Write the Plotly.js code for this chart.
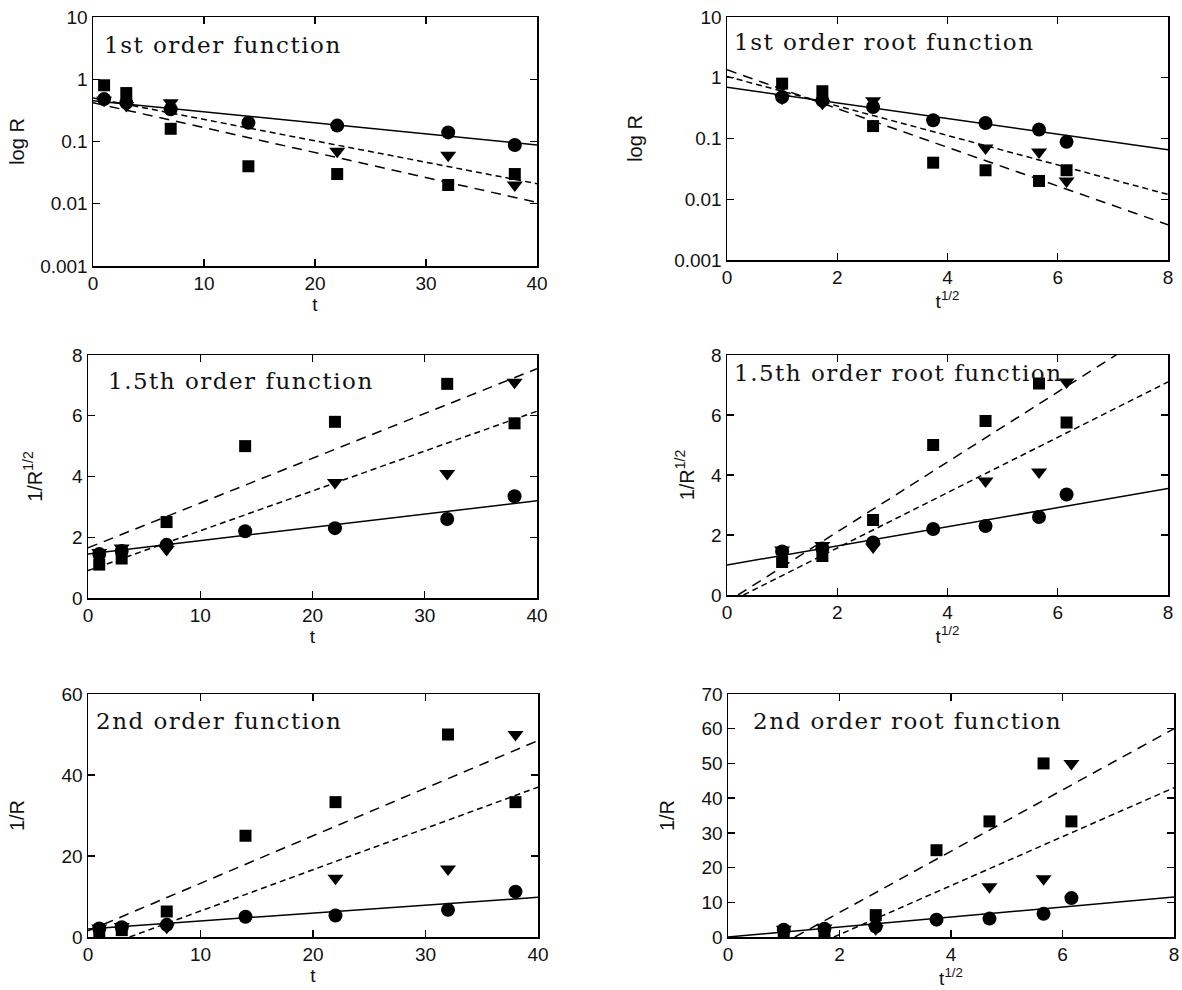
<!DOCTYPE html>
<html><head><meta charset="utf-8">
<script src="https://cdn.plot.ly/plotly-3.0.1.min.js"></script>
<style>
html,body{margin:0;padding:0;background:#fff;}
#chart{width:1182px;height:990px;}
.annotation-text{letter-spacing:1.5px;}
</style></head><body><div id="chart"></div>
<script>
// time points and their square roots
const tValues = [1, 3, 7, 14, 22, 32, 38];
const rootT = [1, 1.73, 2.65, 3.74, 4.69, 5.66, 6.16];

// R (log R panels)
const rCircle   = [0.48, 0.42, 0.33, 0.20, 0.18, 0.14, 0.088];
const rTriangle = [0.46, 0.38, 0.42, null, 0.07, 0.06, 0.02];
const rSquare   = [0.80, 0.60, 0.16, 0.04, 0.03, 0.02, 0.03];

// 1/R^1/2 panels
const hCircle   = [1.45, 1.55, 1.75, 2.2, 2.3, 2.6, 3.35];
const hTriangle = [1.5, 1.65, 1.6, null, 3.8, 4.1, 7.1];
const hSquare   = [1.1, 1.3, 2.5, 5.0, 5.8, 7.05, 5.75];

// 1/R panels
const iCircle   = [2.1, 2.4, 3.0, 5.0, 5.3, 6.7, 11.2];
const iTriangle = [2.2, 2.6, 2.4, null, 14.5, 16.8, 50];
const iSquare   = [1.25, 1.7, 6.3, 25, 33.3, 50, 33.3];

// fitted lines: [x0, x1], [y0, y1]
const fit1 = {solid: [[0, 40], [0.45, 0.088]], shortd: [[0, 40], [0.50, 0.021]], longd: [[0, 40], [0.42, 0.0105]]};
const fit2 = {solid: [[0, 8], [0.70, 0.065]], shortd: [[0, 8], [1.05, 0.012]], longd: [[0, 8], [1.35, 0.0038]]};
const fit3 = {solid: [[0, 40], [1.45, 3.2]], shortd: [[0, 40], [0.9, 6.15]], longd: [[0, 40], [1.65, 7.55]]};
const fit4 = {solid: [[0, 8], [1.0, 3.55]], shortd: [[0.3, 8], [0, 7.1]], longd: [[0.2, 8], [0, 9.1]]};
const fit5 = {solid: [[0, 40], [2.0, 9.8]], shortd: [[3.7, 40], [0, 37]], longd: [[0, 40], [1.5, 48.5]]};
const fit6 = {solid: [[0, 8], [0, 11.5]], shortd: [[1.9, 8], [0, 43]], longd: [[1.2, 8], [0, 60]]};

const panelTitles = ['1st order function', '1st order root function', '1.5th order function',
  '1.5th order root function', '2nd order function', '2nd order root function'];
const xTitles = ['t', 't<sup>1/2</sup>'];
const yTitles = ['log R', '1/R<sup>1/2</sup>', '1/R'];

const W = 1182, H = 990;
// pixel boxes [left, right, top, bottom]
const boxes = [
  [93, 537, 17, 266], [727, 1168, 17, 260],
  [88, 537, 355, 598], [727, 1168, 355, 595],
  [88, 538, 694, 937], [728, 1174, 694, 937]
];
const yStandoff = [10, 26, 24, 11, 31, 21];
const titlePos = [[102, 45], [732, 42], [106, 381], [732, 373], [94, 721], [751, 721]];

const panels = [
  {x: tValues, c: rCircle, tr: rTriangle, s: rSquare, fit: fit1, xr: [0, 40], yr: [-3, 1], log: true},
  {x: rootT, c: rCircle, tr: rTriangle, s: rSquare, fit: fit2, xr: [0, 8], yr: [-3, 1], log: true},
  {x: tValues, c: hCircle, tr: hTriangle, s: hSquare, fit: fit3, xr: [0, 40], yr: [0, 8]},
  {x: rootT, c: hCircle, tr: hTriangle, s: hSquare, fit: fit4, xr: [0, 8], yr: [0, 8]},
  {x: tValues, c: iCircle, tr: iTriangle, s: iSquare, fit: fit5, xr: [0, 40], yr: [0, 60]},
  {x: rootT, c: iCircle, tr: iTriangle, s: iSquare, fit: fit6, xr: [0, 8], yr: [0, 70]}
];

const data = [];
const layout = {
  width: W, height: H, margin: {l: 0, r: 0, t: 0, b: 0},
  paper_bgcolor: '#fff', plot_bgcolor: '#fff', showlegend: false,
  font: {family: 'Liberation Sans, Arial, sans-serif', color: '#111'},
  annotations: []
};

const axisBase = {
  showline: true, mirror: 'ticks', linecolor: '#000', linewidth: 1.5,
  ticks: 'inside', ticklen: 7, tickwidth: 1.3, tickcolor: '#000',
  showgrid: false, zeroline: false,
  tickfont: {family: 'Liberation Sans, Arial, sans-serif', size: 19, color: '#111'}
};

panels.forEach((p, i) => {
  const n = i + 1;
  const xa = 'x' + (n === 1 ? '' : n), ya = 'y' + (n === 1 ? '' : n);
  const b = boxes[i];
  const lineSpec = [
    ['solid', 'solid'], ['shortd', '6px,4px'], ['longd', '10px,7px']
  ];
  lineSpec.forEach(([k, dash]) => {
    data.push({x: p.fit[k][0], y: p.fit[k][1], xaxis: xa, yaxis: ya, mode: 'lines',
      line: {color: '#000', width: 1.5, dash: dash}, hoverinfo: 'skip'});
  });
  data.push({x: p.x, y: p.s, xaxis: xa, yaxis: ya, mode: 'markers', cliponaxis: false,
    marker: {symbol: 'square', size: 12, color: '#000'}});
  data.push({x: p.x, y: p.tr, xaxis: xa, yaxis: ya, mode: 'markers', cliponaxis: false,
    marker: {symbol: 'triangle-down', size: 14, color: '#000'}});
  data.push({x: p.x, y: p.c, xaxis: xa, yaxis: ya, mode: 'markers', cliponaxis: false,
    marker: {symbol: 'circle', size: 14, color: '#000'}});

  const xkey = 'xaxis' + (n === 1 ? '' : n), ykey = 'yaxis' + (n === 1 ? '' : n);
  const xticks = p.xr[1] === 40 ? [0, 10, 20, 30, 40] : [0, 2, 4, 6, 8];
  layout[xkey] = Object.assign({}, axisBase, {
    domain: [b[0] / W, b[1] / W], anchor: ya, range: p.xr,
    tickmode: 'array', tickvals: xticks,
    title: {text: xTitles[i % 2], font: {size: 19, color: '#111'}, standoff: 3}
  });
  const yax = Object.assign({}, axisBase, {
    domain: [1 - b[3] / H, 1 - b[2] / H], anchor: xa, range: p.yr,
    title: {text: yTitles[Math.floor(i / 2)], font: {size: 20, color: '#111'}, standoff: yStandoff[i]}
  });
  if (p.log) {
    yax.type = 'log';
    yax.tickmode = 'array';
    yax.tickvals = [0.001, 0.01, 0.1, 1, 10];
    yax.ticktext = ['0.001', '0.01', '0.1', '1', '10'];
  } else {
    yax.dtick = p.yr[1] === 8 ? 2 : 10;
    if (p.yr[1] === 60) yax.dtick = 20;
  }
  layout[ykey] = yax;

  layout.annotations.push({
    text: panelTitles[i], xref: 'paper', yref: 'paper',
    x: titlePos[i][0] / W, y: 1 - titlePos[i][1] / H, xanchor: 'left', yanchor: 'middle',
    showarrow: false, font: {family: 'DejaVu Serif, serif', size: 23, color: '#111'}
  });
});

Plotly.newPlot('chart', data, layout, {staticPlot: true});
</script></body></html>
